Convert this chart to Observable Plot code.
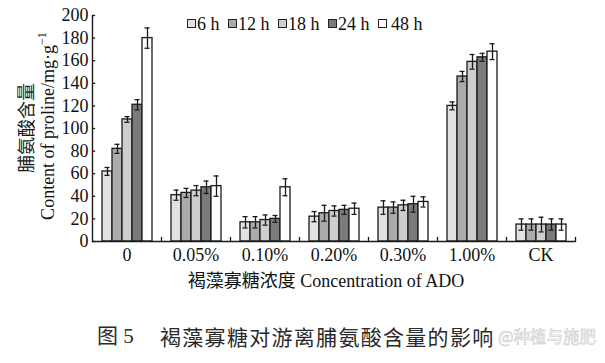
<!DOCTYPE html>
<html>
<head>
<meta charset="utf-8">
<script src="https://cdn.jsdelivr.net/npm/d3@7"></script>
<script src="https://cdn.jsdelivr.net/npm/@observablehq/plot@0.6"></script>
<style>
  body { margin: 0; background: #fff; }
  #wrap { position: relative; width: 605px; height: 363px; background: #fff; overflow: hidden; }
  #legend { position: absolute; left: 187px; top: 15px; display: flex; align-items: center;
            font-family: "Liberation Serif", serif; font-size: 18px; line-height: 18px; color: #111; }
  .item { display: inline-flex; align-items: center; margin-right: 8.5px; white-space: pre; }
  .sw { width: 7px; height: 7px; border: 1.2px solid #222; margin-right: 1px; position: relative; top: -1px; }
  .cap { position: absolute; top: 325px; line-height: 22px; font-size: 21px; color: #2a2a2a;
         font-family: "Liberation Serif", "Noto Sans CJK SC", serif; white-space: pre; }
</style>
</head>
<body>
<div id="wrap"></div>
<script>
// ---- data ----
const groups = ["0", "0.05%", "0.10%", "0.20%", "0.30%", "1.00%", "CK"];
const hours = ["6 h", "12 h", "18 h", "24 h", "48 h"];
const h6  = [62, 41, 17, 22, 30, 120, 15];
const h12 = [82, 43, 17, 25, 30, 146, 15];
const h18 = [108, 45, 19, 27, 32, 159, 15];
const h24 = [121, 48, 20, 28, 33, 163, 15];
const h48 = [180, 49, 48, 29, 35, 168, 15];
const e6  = [3.5, 4.5, 5, 4.5, 6, 3.5, 5];
const e12 = [4, 4, 5, 7, 5, 4.5, 5];
const e18 = [2.5, 4.5, 4.5, 4.5, 4.5, 6.5, 6.5];
const e24 = [4.5, 5.5, 3, 4, 7, 3.5, 5];
const e48 = [9, 9, 7.5, 5, 4.5, 7, 5];
const yTicks = [0, 20, 40, 60, 80, 100, 120, 140, 160, 180, 200];
const hourColors = ["#e2e2e2", "#ababab", "#cecece", "#7b7b7b", "#ffffff"];
const yLabelZh = "脯氨酸含量";
const yLabelEn = "Content of proline/mg·g";
const xTitle = "褐藻寡糖浓度 Concentration of ADO";
const figNo = "图 5";
const figTitle = "褐藻寡糖对游离脯氨酸含量的影响";
const watermark = "@种植与施肥";

const means = [h6, h12, h18, h24, h48];
const errs = [e6, e12, e18, e24, e48];
const rows = [];
hours.forEach((h, i) => groups.forEach((g, j) =>
  rows.push({group: g, hour: h, value: means[i][j], err: errs[i][j]})));

// ---- layout ----
const W = 605, H = 300, mL = 89, mR = 27, mT = 15, mB = 59;
const facetW = (W - mL - mR) / groups.length;
const ink = "#1a1a1a";

const chart = Plot.plot({
  width: W, height: H,
  marginLeft: mL, marginRight: mR, marginTop: mT, marginBottom: mB,
  style: {fontFamily: "'Liberation Serif', 'Noto Sans CJK SC', serif", fontSize: "18px", color: "#111", background: "#fff", overflow: "visible"},
  fx: {domain: groups, paddingInner: 0, paddingOuter: 0, label: null, tickSize: 0, tickPadding: 7},
  x: {domain: hours, paddingInner: 0, paddingOuter: 0.66, axis: null},
  y: {domain: [0, 200], ticks: yTicks, tickSize: 0, tickPadding: 4, label: null},
  color: {domain: hours, range: hourColors},
  marks: [
    Plot.barY(rows, {fx: "group", x: "hour", y: "value", fill: "hour", stroke: ink, strokeWidth: 1.3}),
    Plot.ruleX(rows, {fx: "group", x: "hour", y1: d => d.value - d.err, y2: d => d.value + d.err, stroke: ink, strokeWidth: 1.3}),
    Plot.tickY(rows, {fx: "group", x: "hour", y: d => d.value - d.err, insetLeft: 2.5, insetRight: 2.5, stroke: ink, strokeWidth: 1.3}),
    Plot.tickY(rows, {fx: "group", x: "hour", y: d => d.value + d.err, insetLeft: 2.5, insetRight: 2.5, stroke: ink, strokeWidth: 1.3}),
    Plot.ruleY([0], {stroke: ink, strokeWidth: 1.4}),
    Plot.frame({anchor: "right", insetTop: H - mT - mB - 4, stroke: ink, strokeWidth: 1.3}),
    Plot.frame({anchor: "left", facet: "super", stroke: ink, strokeWidth: 1.4}),
    Plot.tickY(yTicks, {y: d => d, fx: () => groups[0], insetRight: facetW - 4, stroke: ink, strokeWidth: 1.3})
  ]
});

const wrap = document.getElementById("wrap");
wrap.appendChild(chart);

// axis titles
const svg = d3.select(chart);
svg.append("text")
  .attr("transform", "translate(25,128) rotate(-90)")
  .attr("text-anchor", "middle").attr("dominant-baseline", "central")
  .style("font-family", "'Noto Sans CJK SC', sans-serif").style("font-size", "18px")
  .attr("fill", "#1a1a1a")
  .text(yLabelZh);
const en = svg.append("text")
  .attr("transform", "translate(48,126) rotate(-90)")
  .attr("text-anchor", "middle").attr("dominant-baseline", "central")
  .style("font-family", "'Liberation Serif', serif").style("font-size", "18px")
  .attr("fill", "#111");
en.append("tspan").text(yLabelEn);
en.append("tspan").attr("dy", "-0.5em").style("font-size", "12px").text("−1");

svg.append("text")
  .attr("x", 326).attr("y", 281)
  .attr("text-anchor", "middle").attr("dominant-baseline", "central")
  .style("font-family", "'Liberation Serif', 'Noto Sans CJK SC', serif").style("font-size", "18px")
  .attr("fill", "#111")
  .text(xTitle);

// legend
const color = chart.scale("color");
const legend = d3.select(wrap).append("div").attr("id", "legend");
hours.forEach((h, i) => {
  const it = legend.append("span").attr("class", "item");
  it.append("span").attr("class", "sw").style("background", color.apply(h))
    .style("margin-right", i === hours.length - 1 ? "4px" : "1px");
  it.append("span").text(h);
});

// caption
d3.select(wrap).append("div").attr("class", "cap").style("left", "97px").text(figNo);
d3.select(wrap).append("div").attr("class", "cap").style("left", "160px").style("letter-spacing", "1.3px")
  .style("font-family", "'Noto Sans CJK SC', sans-serif").text(figTitle);
d3.select(wrap).append("div").attr("class", "cap")
  .style("left", "498px").style("font-size", "16.5px")
  .style("font-family", "'Noto Sans CJK SC', sans-serif")
  .style("color", "rgba(250,250,250,0.9)").style("-webkit-text-stroke", "0.5px #c4c4c4")
  .text(watermark);
</script>
</body>
</html>
